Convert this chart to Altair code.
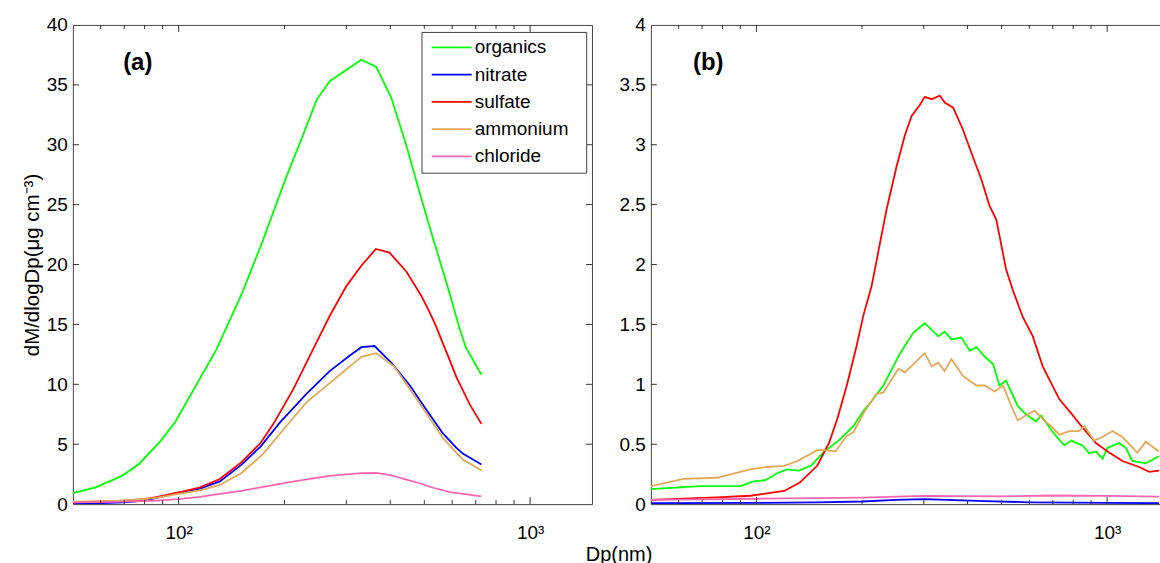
import altair as alt
import pandas as pd

SPECIES = ["organics", "nitrate", "sulfate", "ammonium", "chloride"]
COLORS = ["#00ff00", "#0000ff", "#ff0000", "#e3a857", "#ff66b2"]

# ---------------- panel (a) ----------------
a_org_dp = [50, 58, 69, 77, 89, 98, 113, 128, 151, 171, 203, 221, 247, 269, 331, 365, 403, 445, 485, 528, 578, 631, 656, 727]
a_org = [0.92, 1.4, 2.36, 3.33, 5.3, 6.9, 10.1, 12.9, 17.5, 21.5, 27.4, 30.1, 33.75, 35.3, 37.1, 36.5, 33.9, 29.9, 26.0, 22.3, 18.5, 14.6, 13.1, 10.8]

a_no3_dp = [50, 60, 70, 80, 87, 100, 115, 131, 151, 171, 194, 231, 269, 307, 331, 361, 403, 455, 506, 565, 617, 645, 690, 727]
a_no3 = [0.05, 0.08, 0.15, 0.3, 0.55, 0.95, 1.3, 1.9, 3.3, 4.8, 6.8, 9.2, 11.1, 12.4, 13.1, 13.2, 11.8, 9.9, 7.9, 5.9, 4.7, 4.2, 3.7, 3.3]

a_so4_dp = [50, 60, 70, 80, 87, 100, 115, 131, 151, 171, 186, 212, 241, 269, 300, 331, 364, 398, 445, 490, 518, 541, 565, 591, 617, 674, 727]
a_so4 = [0.15, 0.2, 0.28, 0.42, 0.6, 0.97, 1.4, 2.1, 3.5, 5.1, 6.7, 9.6, 12.9, 15.7, 18.2, 19.9, 21.3, 21.0, 19.4, 17.4, 16.0, 14.8, 13.4, 12.0, 10.6, 8.3, 6.7]

a_nh4_dp = [50, 67, 80, 87, 100, 115, 131, 151, 174, 199, 231, 269, 307, 331, 365, 410, 455, 506, 565, 617, 645, 727]
a_nh4 = [0.2, 0.3, 0.42, 0.55, 0.85, 1.15, 1.6, 2.6, 4.2, 6.25, 8.5, 10.1, 11.5, 12.3, 12.6, 11.5, 9.6, 7.6, 5.5, 4.3, 3.7, 2.8]

a_chl_dp = [50, 70, 87, 100, 115, 131, 151, 171, 203, 241, 269, 300, 331, 365, 403, 445, 490, 518, 591, 645, 727]
a_chl = [0.15, 0.2, 0.3, 0.42, 0.6, 0.85, 1.1, 1.4, 1.8, 2.15, 2.36, 2.48, 2.58, 2.6, 2.4, 2.05, 1.7, 1.45, 1.0, 0.85, 0.65]

# ---------------- panel (b) ----------------
b_org_dp = [50, 69, 90, 98, 106, 115, 122, 132, 143, 155, 173, 189, 202, 213, 230, 257, 280, 302, 330, 344, 360, 384, 406, 424, 448, 473, 493, 515, 556, 587, 627, 648, 700, 755, 789, 851, 889, 929, 970, 1003, 1082, 1130, 1180, 1288, 1406]
b_org = [0.125, 0.15, 0.15, 0.19, 0.20, 0.26, 0.29, 0.28, 0.32, 0.43, 0.54, 0.65, 0.78, 0.86, 0.99, 1.26, 1.43, 1.51, 1.40, 1.44, 1.375, 1.39, 1.28, 1.31, 1.23, 1.17, 0.99, 1.03, 0.82, 0.75, 0.69, 0.74, 0.60, 0.49, 0.53, 0.49, 0.425, 0.44, 0.38, 0.47, 0.51, 0.47, 0.36, 0.34, 0.40]

b_no3_dp = [50, 100, 150, 200, 250, 300, 350, 450, 600, 800, 1000, 1406]
b_no3 = [0.008, 0.01, 0.015, 0.022, 0.035, 0.042, 0.035, 0.025, 0.015, 0.012, 0.01, 0.008]

b_so4_dp = [50, 77, 96, 120, 133, 149, 161, 170, 181, 193, 202, 213, 235, 251, 265, 277, 292, 302, 316, 333, 345, 364, 388, 414, 438, 462, 483, 515, 538, 575, 614, 655, 731, 789, 851, 929, 1014, 1106, 1234, 1318, 1406]
b_so4 = [0.036, 0.056, 0.07, 0.11, 0.18, 0.32, 0.51, 0.71, 0.99, 1.32, 1.58, 1.82, 2.46, 2.82, 3.08, 3.24, 3.33, 3.40, 3.38, 3.41, 3.35, 3.31, 3.125, 2.90, 2.71, 2.49, 2.375, 1.96, 1.79, 1.56, 1.40, 1.15, 0.875, 0.76, 0.64, 0.51, 0.43, 0.36, 0.31, 0.27, 0.28]

b_nh4_dp = [50, 62, 77, 96, 107, 120, 131, 149, 155, 168, 181, 189, 202, 220, 230, 254, 265, 302, 316, 330, 344, 360, 388, 424, 448, 478, 505, 533, 556, 587, 621, 655, 692, 731, 780, 832, 861, 918, 970, 1036, 1106, 1219, 1288, 1406]
b_nh4 = [0.15, 0.21, 0.22, 0.29, 0.31, 0.32, 0.36, 0.45, 0.45, 0.44, 0.57, 0.60, 0.76, 0.92, 0.93, 1.13, 1.10, 1.26, 1.15, 1.18, 1.11, 1.21, 1.07, 0.99, 0.99, 0.94, 0.99, 0.82, 0.70, 0.74, 0.78, 0.71, 0.65, 0.58, 0.61, 0.61, 0.65, 0.53, 0.56, 0.61, 0.56, 0.43, 0.52, 0.44]

b_chl_dp = [50, 100, 200, 300, 500, 700, 1000, 1406]
b_chl = [0.035, 0.045, 0.055, 0.068, 0.065, 0.072, 0.068, 0.062]

# tick labels / tick positions
X_MAJOR = [100, 1000]
X_MINOR = [60, 70, 80, 90, 200, 300, 400, 500, 600, 700, 800, 900]
Y_A = [0, 5, 10, 15, 20, 25, 30, 35, 40]
Y_B = [0, 0.5, 1, 1.5, 2, 2.5, 3, 3.5, 4]


def to_long(series):
    rows = []
    for sp, dps, vals in series:
        for d, v in zip(dps, vals):
            rows.append({"species": sp, "dp": d, "value": v})
    return pd.DataFrame(rows)


df_a = to_long([("organics", a_org_dp, a_org), ("nitrate", a_no3_dp, a_no3),
                ("sulfate", a_so4_dp, a_so4), ("ammonium", a_nh4_dp, a_nh4),
                ("chloride", a_chl_dp, a_chl)])
df_b = to_long([("organics", b_org_dp, b_org), ("nitrate", b_no3_dp, b_no3),
                ("sulfate", b_so4_dp, b_so4), ("ammonium", b_nh4_dp, b_nh4),
                ("chloride", b_chl_dp, b_chl)])

FONT = "Liberation Sans"
EDGE = "#444444"
TICK = "#333333"
FS = 19
H = 480


def make_panel(data, xdom, ydom, yvals, width, ytitle, tag, tag_x, show_legend, right_side):
    xs = alt.Scale(type="log", domain=xdom, nice=False)
    ys = alt.Scale(domain=ydom, nice=False)
    base = alt.Chart(data)

    if show_legend:
        legend = alt.Legend(orient="none", legendX=349.2, legendY=7.0, title=" ",
                            titleOrient="right", titlePadding=12, titleFontSize=2,
                            titleColor="white",
                            direction="vertical", symbolType="M-0.87,0H5.8", symbolSize=144,
                            symbolStrokeWidth=1.8, labelFont=FONT, labelFontSize=FS,
                            labelColor="black", labelOffset=28.3, padding=6, rowPadding=7.3,
                            strokeColor=EDGE, fillColor="white")
    else:
        legend = None

    y_axis_kw = dict(values=yvals, ticks=False, tickSize=0, domain=True, domainColor=EDGE,
                     grid=False, labelFont=FONT, labelFontSize=FS, labelColor="black",
                     labelPadding=5.5, format="~g")
    if ytitle:
        y_axis = alt.Axis(title=ytitle, titleFont=FONT, titleFontSize=20.5,
                          titleFontWeight="normal", titleColor="black", titlePadding=4,
                          **y_axis_kw)
    else:
        y_axis = alt.Axis(title=None, **y_axis_kw)

    x_axis = alt.Axis(values=X_MAJOR, labelExpr="datum.value == 100 ? '10²' : '10³'",
                      ticks=False, tickSize=0, domain=True, domainColor=EDGE, grid=False,
                      title=None, labelFont=FONT, labelFontSize=FS, labelColor="black",
                      labelPadding=19)

    lines = base.mark_line(strokeWidth=1.8, clip=True).encode(
        x=alt.X("dp:Q", scale=xs, axis=x_axis),
        y=alt.Y("value:Q", scale=ys, axis=y_axis),
        color=alt.Color("species:N", scale=alt.Scale(domain=SPECIES, range=COLORS),
                        sort=SPECIES, legend=legend),
    )

    def ghost(xaxis, yaxis):
        return base.mark_line(opacity=0).encode(
            x=alt.X("dp:Q", scale=xs, axis=xaxis),
            y=alt.Y("value:Q", scale=ys, axis=yaxis),
            detail="species:N",
        )

    def xrule(values, y1, y2):
        return alt.Chart(pd.DataFrame({"dp": values})).mark_rule(
            color=TICK, strokeWidth=1).encode(
            x=alt.X("dp:Q", scale=xs, axis=None), y=alt.value(y1), y2=alt.value(y2))

    def yrule(values, x1, x2):
        return alt.Chart(pd.DataFrame({"value": values})).mark_rule(
            color=TICK, strokeWidth=1).encode(
            y=alt.Y("value:Q", scale=ys, axis=None), x=alt.value(x1), x2=alt.value(x2))

    majors = [v for v in X_MAJOR if v < xdom[1]]
    inner_y = yvals[1:-1]

    layers = [lines,
              ghost(alt.Axis(orient="top", labels=False, ticks=False, domain=True,
                             domainColor=EDGE, grid=False, title=None),
                    alt.Axis(orient="right", labels=False, ticks=False, domain=True,
                             domainColor=EDGE, grid=False, title=None) if right_side else None),
              xrule(X_MINOR, H, H - 4), xrule(majors, H, H - 7),
              xrule(X_MINOR, 0, 4), xrule(majors, 0, 7),
              yrule(inner_y, 0, 6)]
    if right_side:
        layers.append(yrule(inner_y, width - 6, width))

    tag_layer = alt.Chart(pd.DataFrame({"tag": [tag]})).mark_text(
        font=FONT, fontSize=24, fontWeight="bold", align="center", baseline="middle",
        color="black").encode(text="tag:N", x=alt.value(tag_x), y=alt.value(38.5))
    layers.append(tag_layer)

    return alt.layer(*layers).resolve_axis(x="independent", y="independent").properties(
        width=width, height=H)


panel_a = make_panel(df_a, [50, 1500], [0, 40], Y_A, 520, "dM/dlogDp(μg cm⁻³)", "(a)", 65,
                     True, True)
panel_b = make_panel(df_b, [50, 1415], [0, 4], Y_B, 510, None, "(b)", 57.5, False, False)

chart = alt.hconcat(panel_a, panel_b, spacing=26).properties(
    title=alt.TitleParams("Dp(nm)", orient="bottom", anchor="middle", font=FONT, fontSize=20,
                          fontWeight="normal", color="black", offset=3, dx=28),
    padding={"left": 22, "top": 15.5, "right": 0, "bottom": 0},
).configure_view(strokeWidth=0)

chart.save("out.html", embed_options={"renderer": "svg", "actions": False})
